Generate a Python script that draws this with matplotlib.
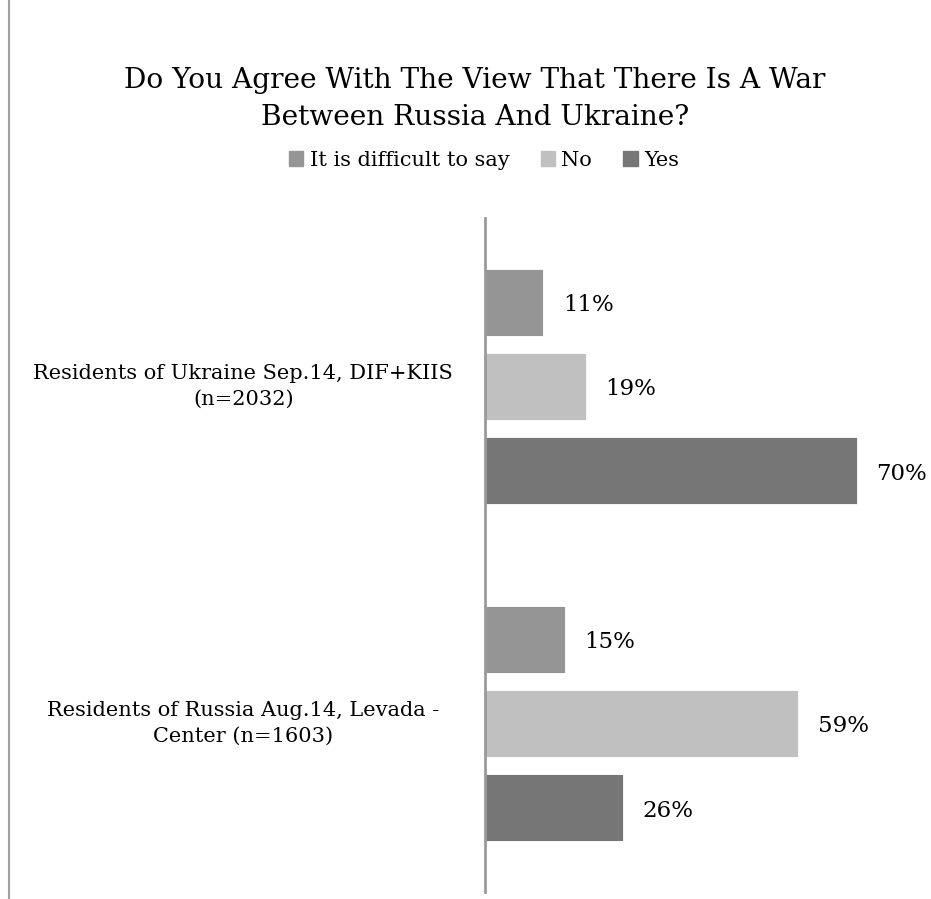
import matplotlib
matplotlib.use("Agg")
import matplotlib.pyplot as plt
from matplotlib.lines import Line2D
from matplotlib.patches import Patch

categories = ["Residents of Ukraine Sep.14, DIF+KIIS\n(n=2032)",
              "Residents of Russia Aug.14, Levada -\nCenter (n=1603)"]
series_names = ["It is difficult to say", "No", "Yes"]
difficult = [11, 15]
no = [19, 59]
yes = [70, 26]
colors = ["#959595", "#c0c0c0", "#767676"]

plt.rcParams['font.family'] = ['DejaVu Serif']

fig = plt.figure(figsize=(9.31, 8.99), dpi=100)
ax = fig.add_axes([485 / 931, 7 / 899, 425 / 931, 674 / 899])

series = [difficult, no, yes]
offsets = [-0.25, 0, 0.25]
for vals, off, col in zip(series, offsets, colors):
    ys = [i + off for i in range(len(categories))]
    ax.barh(ys, vals, height=0.2, color=col, edgecolor='white', linewidth=0.6)
    for y, v in zip(ys, vals):
        ax.annotate(f"{v}%", xy=(v, y), xytext=(14, -2), textcoords='offset points',
                    ha='left', va='center', fontsize=16.5)

for i, cat in enumerate(categories):
    ax.annotate(cat, xy=(0, i), xytext=(-174, 0), textcoords='offset points',
                ha='center', va='center', fontsize=15, linespacing=1.45)

ax.set_xlim(0, 80)
ax.set_ylim(1.5, -0.5)
ax.set_xticks([])
ax.set_yticks([])
for s in ['top', 'right', 'bottom']:
    ax.spines[s].set_visible(False)
ax.spines['left'].set_color('#9a9a9a')
ax.spines['left'].set_linewidth(2)

fig.text(475 / 931, 1 - 99 / 899, "Do You Agree With The View That There Is A War\nBetween Russia And Ukraine?",
         ha='center', va='center', fontsize=20.2, linespacing=1.45)

handles = [Patch(color=c, label=n) for c, n in zip(colors, series_names)]
fig.legend(handles=handles, loc='center', bbox_to_anchor=(484 / 931, 1 - 160 / 899), ncol=3,
           frameon=False, fontsize=15, handlelength=0.7, handleheight=0.7,
           handletextpad=0.3, columnspacing=1.5)

fig.add_artist(Line2D([9 / 931, 9 / 931], [0, 1], color='#a0a0a0', linewidth=1.5))

fig.savefig("out.png", dpi=100)
